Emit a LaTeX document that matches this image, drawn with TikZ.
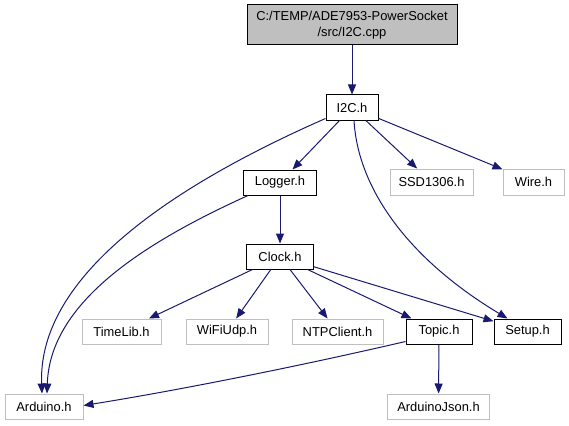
\documentclass[tikz,border=0pt]{standalone}
\usepackage{fontspec}
\setmainfont{Liberation Sans}
\usetikzlibrary{arrows.meta}

\definecolor{edgeblue}{HTML}{191970}
\definecolor{extgray}{HTML}{BFBFBF}

\tikzset{
    hdr/.style={draw=black, line width=1pt, fill=white, inner sep=0pt,
        font=\fontsize{12.9}{16}\selectfont},
    ext/.style={hdr, draw=extgray},
    rootbox/.style={hdr, fill=extgray, align=center},
    incl/.style={draw=edgeblue, line width=1pt,
        -{Triangle[length=10pt,width=8pt]}}
}

\begin{document}
\begin{tikzpicture}[x=1pt,y=-1pt]
            \useasboundingbox (0,0) rectangle (569,425);

            % source file
            \node[rootbox, minimum width=210pt, minimum height=40pt] (cpp) at (352,25)
                {C:/TEMP/ADE7953-PowerSocket\\/src/I2C.cpp};

            % first level
            \node[hdr, minimum width=52pt, minimum height=25pt] (i2c) at (352,107.5) {I2C.h};
            \node[hdr, minimum width=73pt, minimum height=25pt] (logger) at (280,182.5) {Logger.h};
            \node[ext, minimum width=83pt, minimum height=26pt] (ssd) at (431.5,182) {SSD1306.h};
            \node[ext, minimum width=61pt, minimum height=26pt] (wire) at (533.5,182) {Wire.h};

            % clock
            \node[hdr, minimum width=67pt, minimum height=25pt] (clock) at (280,256.5) {Clock.h};

            % third level
            \node[ext, minimum width=79pt, minimum height=25pt] (timelib) at (121.5,331.5) {TimeLib.h};
            \node[ext, minimum width=82pt, minimum height=25pt] (wifiudp) at (227,331.5) {WiFiUdp.h};
            \node[ext, minimum width=91pt, minimum height=25pt] (ntp) at (337.5,331.5) {NTPClient.h};
            \node[hdr, minimum width=66pt, minimum height=25pt] (topic) at (439,331.5) {Topic.h};
            \node[hdr, minimum width=67pt, minimum height=25pt] (setup) at (527.5,331.5) {Setup.h};

            % bottom
            \node[ext, minimum width=78pt, minimum height=25pt] (arduino) at (44,406.5) {Arduino.h};
            \node[ext, minimum width=102pt, minimum height=25pt] (ajson) at (438.5,406.5) {ArduinoJson.h};

            % includes
            \draw[incl] (cpp) -- (i2c);
            \draw[incl] (i2c) -- (logger);
            \draw[incl] (i2c) -- (ssd);
            \draw[incl] (i2c) -- (wire);
            \draw[incl] ([yshift=2pt]i2c.south west)
                .. controls (140,200) and (38,290) .. ([xshift=-2pt]arduino.north);
            \draw[incl] ([xshift=2pt]i2c.south)
                .. controls (358,190) and (410,260) .. ([xshift=-20pt]setup.north);
            \draw[incl] ([xshift=5pt]logger.south west)
                .. controls (150,240) and (50,300) .. ([xshift=3pt]arduino.north);
            \draw[incl] (logger) -- (clock);
            \draw[incl] (clock) -- (timelib);
            \draw[incl] (clock) -- (wifiudp);
            \draw[incl] (clock) -- (ntp);
            \draw[incl] (clock) -- (topic);
            \draw[incl] (clock) -- (setup);
            \draw[incl] ([yshift=3pt]topic.south west)
                .. controls (300,366) and (180,390) .. ([yshift=1pt]arduino.east);
            \draw[incl] (topic) -- (ajson);

\end{tikzpicture}
\end{document}
